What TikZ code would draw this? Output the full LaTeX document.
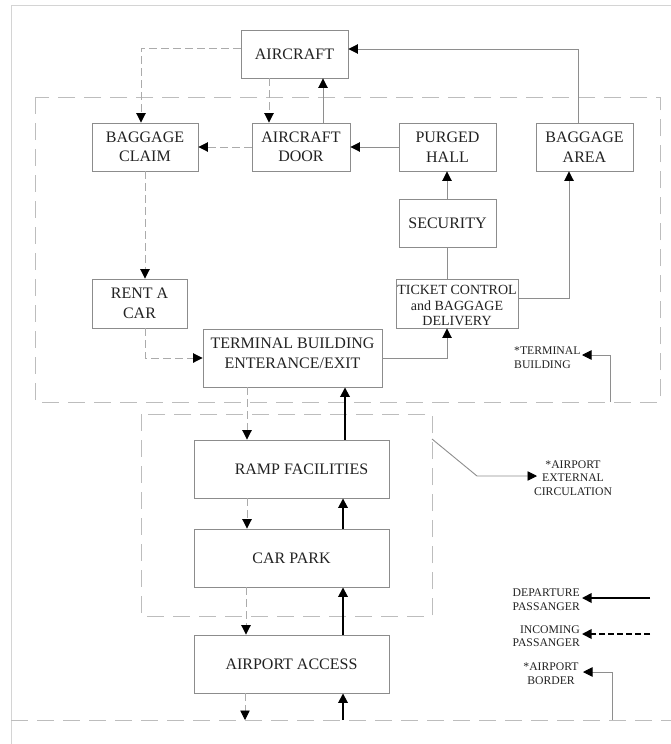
\documentclass[tikz,border=0pt]{standalone}
\usepackage{fontspec}
\setmainfont{Liberation Serif}
\usetikzlibrary{arrows.meta}
\definecolor{framegray}{HTML}{D4D4D4}
\definecolor{zonegray}{HTML}{BDBDBD}
\definecolor{boxgray}{HTML}{8C8C8C}
\definecolor{linegray}{HTML}{8E8E8E}
\definecolor{dashgray}{HTML}{ABABAB}
\definecolor{textgray}{HTML}{222222}
\begin{document}
\begin{tikzpicture}[x=1pt,y=-1pt,
  tip/.tip={Triangle[length=9.5pt,width=9.5pt,color=black]},
  box/.style={draw=boxgray,line width=0.9pt,text=textgray,align=center,inner sep=0pt,
    font=\fontsize{16}{19.5}\selectfont},
  boxtext/.style={text=textgray,align=center,inner sep=0pt,font=\fontsize{16}{19.5}\selectfont},
  zone/.style={draw=zonegray,line width=1pt,dash pattern=on 17pt off 9pt},
  dep/.style={draw=linegray,line width=0.9pt,-tip},
  inc/.style={draw=dashgray,line width=0.9pt,dash pattern=on 8pt off 4pt,-tip},
  depthick/.style={draw=black,line width=1.8pt,-tip},
  incthick/.style={draw=black,line width=1.8pt,dash pattern=on 6pt off 3pt,-tip},
  plain/.style={draw=linegray,line width=0.9pt},
  lbl/.style={text=textgray,inner sep=0pt,font=\fontsize{11.7}{13.5}\selectfont}]
\useasboundingbox (0,0) rectangle (671,744);
\fill[white] (0,0) rectangle (671,744);

% page frame and airport border line
\draw[framegray,line width=1pt] (11,744) -- (11,5) -- (671,5);
\draw[zone] (11,720) -- (671,720);

% zones
\draw[zone] (35,97) rectangle (660,402);
\draw[zone] (141,414) rectangle (432,616);

% boxes
\node[box,minimum width=107pt,minimum height=48pt] (aircraft) at (294.5,54) {AIRCRAFT};
\node[box,minimum width=106pt,minimum height=48pt] (bclaim) at (145,147) {BAGGAGE\\CLAIM};
\node[box,minimum width=98pt,minimum height=48pt] (adoor) at (301,147) {AIRCRAFT\\DOOR};
\node[box,minimum width=97pt,minimum height=48pt] (purged) at (447.5,147) {PURGED\\HALL};
\node[box,minimum width=97pt,minimum height=48pt] (barea) at (584.5,147) {BAGGAGE\\AREA};
\node[box,minimum width=97pt,minimum height=48pt] (security) at (447.5,223) {SECURITY};
\node[box,minimum width=95pt,minimum height=49pt] (rent) at (139.5,303.5) {RENT A\\CAR};
\node[box,minimum width=122pt,minimum height=49pt] (ticket) at (457,303.5) {};
\node[boxtext,font=\fontsize{14}{15.5}\selectfont] (tickettext) at (457,305.5) {TICKET CONTROL\\and BAGGAGE\\DELIVERY};
\node[box,minimum width=179pt,minimum height=58pt] (terminal) at (292.5,358) {};
\node[boxtext] (terminaltext) at (292.5,353.5) {TERMINAL BUILDING\\ENTERANCE/EXIT};
\node[box,minimum width=195pt,minimum height=58pt] (ramp) at (291.5,469) {\hspace*{20pt}RAMP FACILITIES};
\node[box,minimum width=195pt,minimum height=58pt] (carpark) at (291.5,558) {CAR PARK};
\node[box,minimum width=195pt,minimum height=58pt] (access) at (291.5,664) {AIRPORT ACCESS};

% columns of the vertical flows
\coordinate (inx) at (247,0);
\coordinate (outx) at (345,0);
\coordinate (secx) at (447,0);

% upper connectors
\draw[inc] ([yshift=6pt]aircraft.west) -| ([xshift=-4pt]bclaim.north);
\draw[inc] ([xshift=-25.5pt]aircraft.south) -- ([xshift=-25.5pt]aircraft.south |- adoor.north);
\draw[dep] ([xshift=22pt]adoor.north) -- ([xshift=22pt]adoor.north |- aircraft.south);
\draw[inc] (adoor.west) -- (bclaim.east);
\draw[dep] (purged.west) -- (adoor.east);
\draw[dep] ([xshift=-6.5pt]barea.north) |- ([yshift=5pt]aircraft.east);
\draw[dep] (security.north -| secx) -- (purged.south -| secx);
\draw[plain] (ticket.north -| secx) -- (security.south -| secx);
\draw[dep] ([yshift=5.5pt]ticket.east) -| ([xshift=-15.5pt]barea.south);
\draw[inc] (bclaim.south) -- (bclaim.south |- rent.north);
\draw[inc] (bclaim.south |- rent.south) |- (terminal.west);
\draw[dep] (terminal.east) -| (ticket.south -| secx);

% lower connectors
\draw[inc] (terminal.south -| inx) -- (ramp.north -| inx);
\draw[depthick] (ramp.north -| outx) -- (terminal.south -| outx);
\draw[inc] (ramp.south -| inx) -- (carpark.north -| inx);
\draw[depthick] ([xshift=-2pt]carpark.north -| outx) -- ([xshift=-2pt]ramp.south -| outx);
\draw[inc] ([xshift=-1pt]carpark.south -| inx) -- ([xshift=-1pt]access.north -| inx);
\draw[depthick] ([xshift=-2pt]access.north -| outx) -- ([xshift=-2pt]carpark.south -| outx);
\coordinate (outend) at (245,720);
\coordinate (inend) at (343,720);
\draw[inc] (access.south -| outend) -- (outend);
\draw[depthick] (inend) -- (access.south -| inend);

% zone labels and legend
\node[lbl,anchor=west,align=left] (tlabel) at (514,357.5) {*TERMINAL\\BUILDING};
\coordinate (tstart) at (610,402);
\coordinate (ttip) at (582,355);
\draw[dep] (tstart) |- (ttip);

\node[lbl,align=center] (elabel) at (573,478) {*AIRPORT\\EXTERNAL\\CIRCULATION};
\coordinate (estart) at (432,439);
\coordinate (ebend) at (477,476);
\coordinate (etip) at (537,476);
\draw[dep] (estart) -- (ebend) -- (etip);

\node[lbl,anchor=east,align=right] (dlabel) at (580,599.5) {DEPARTURE\\PASSANGER};
\coordinate (dstart) at (650,598);
\coordinate (dtip) at (582,598);
\draw[depthick] (dstart) -- (dtip);

\node[lbl,anchor=east,align=right] (ilabel) at (580,636) {INCOMING\\PASSANGER};
\coordinate (istart) at (650,634);
\coordinate (itip) at (582,634);
\draw[incthick] (istart) -- (itip);

\node[lbl,align=center] (blabel) at (551,673.5) {*AIRPORT\\BORDER};
\coordinate (bstart) at (612,720);
\coordinate (btip) at (583,672);
\draw[dep] (bstart) |- (btip);
\end{tikzpicture}
\end{document}
